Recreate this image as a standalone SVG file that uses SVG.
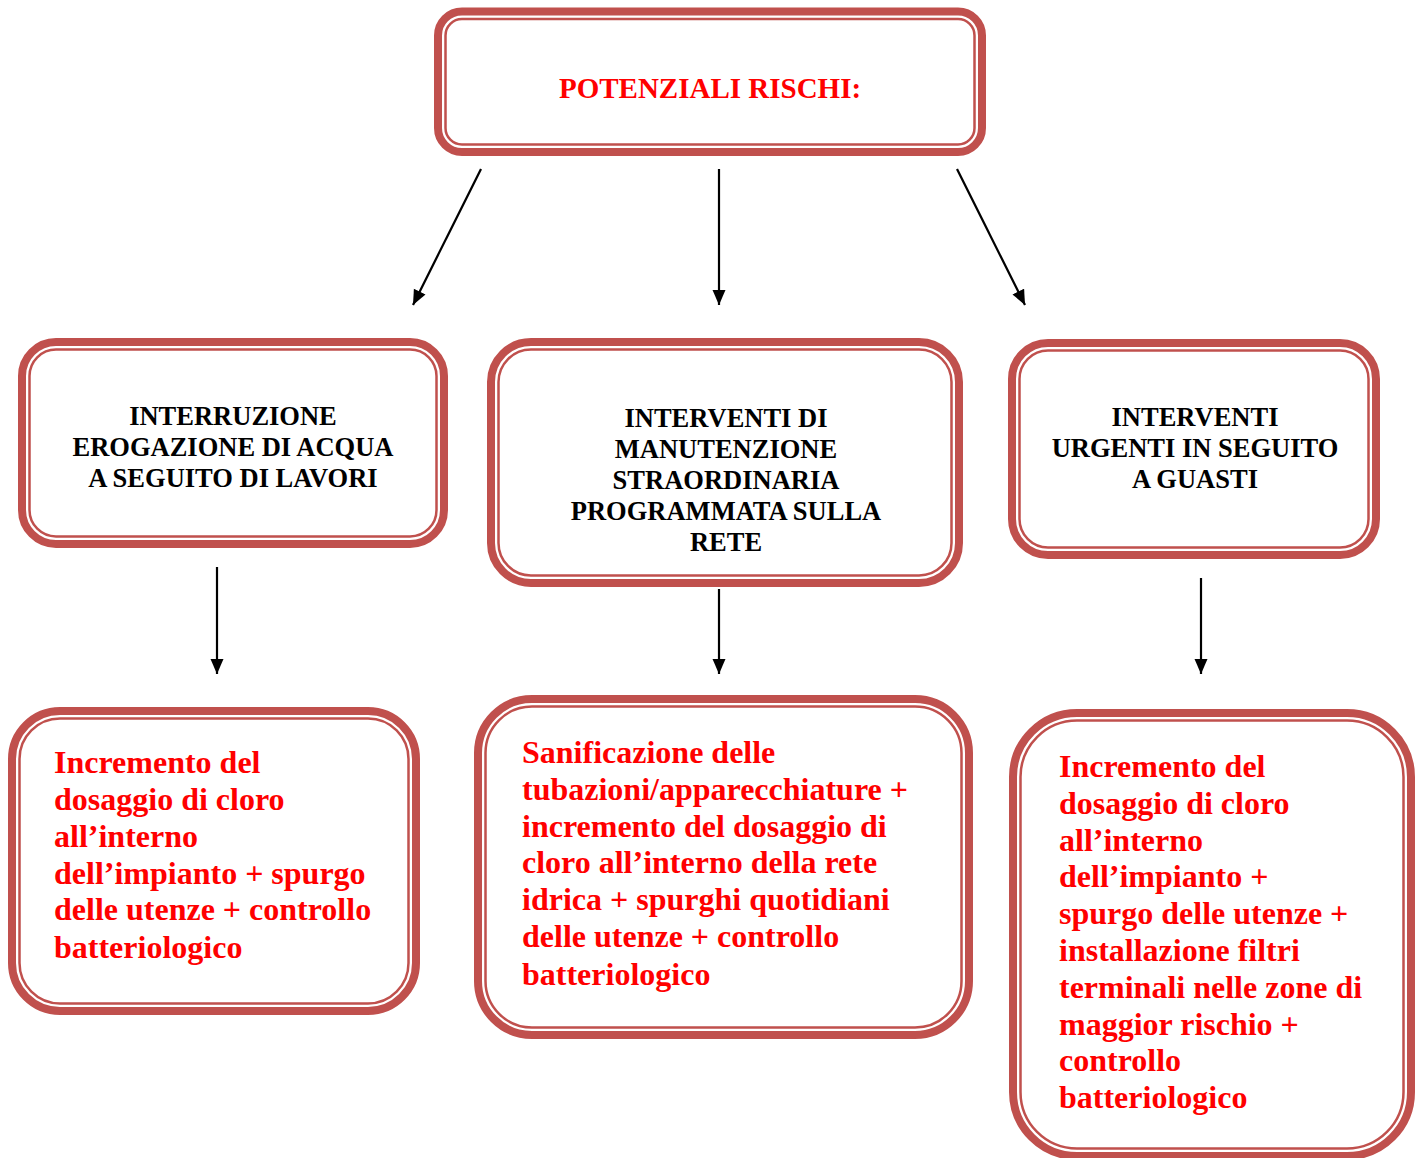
<svg xmlns="http://www.w3.org/2000/svg" width="1421" height="1158" viewBox="0 0 1421 1158">
<style>
.thick{fill:#fff;stroke:#C0504D;stroke-width:8}
.thin{fill:none;stroke:#C0504D;stroke-width:2.5}
.t{font-family:"Liberation Serif","Times New Roman",serif;font-weight:bold}
.title{font-size:29px;fill:#FF0000;text-anchor:middle}
.mid{font-size:26.5px;fill:#000;text-anchor:middle}
.low{font-size:32px;fill:#FF0000}
.conn{stroke:#000;stroke-width:2.2;fill:none;marker-end:url(#ah)}
</style>
<defs>
<marker id="ah" markerUnits="userSpaceOnUse" markerWidth="16" markerHeight="14" refX="15" refY="6.5" orient="auto">
<path d="M0,0 L15,6.5 L0,13 z" fill="#000"/>
</marker>
</defs>
<rect width="1421" height="1158" fill="#fff"/>
<g id="connectors">
<line class="conn" x1="481" y1="169" x2="413" y2="305"/>
<line class="conn" x1="719" y1="169" x2="719" y2="305"/>
<line class="conn" x1="957" y1="169" x2="1025" y2="305"/>
<line class="conn" x1="217" y1="567" x2="217" y2="674"/>
<line class="conn" x1="719" y1="589" x2="719" y2="674"/>
<line class="conn" x1="1201" y1="578" x2="1201" y2="674"/>
</g>
<g id="node-top">
<rect class="thick" x="438" y="11.5" width="544" height="140.5" rx="24"/>
<rect class="thin" x="445.5" y="19" width="529" height="125.5" rx="16.5"/>
<text class="t title" x="710" y="98">POTENZIALI RISCHI:</text>
</g>
<g id="node-interruzione">
<rect class="thick" x="22" y="342" width="422" height="202" rx="34"/>
<rect class="thin" x="29.5" y="349.5" width="407" height="187" rx="26.5"/>
<text class="t mid"><tspan x="233" y="425">INTERRUZIONE</tspan><tspan x="233" y="456">EROGAZIONE DI ACQUA</tspan><tspan x="233" y="487">A SEGUITO DI LAVORI</tspan></text>
</g>
<g id="node-manutenzione">
<rect class="thick" x="491" y="342" width="468" height="241" rx="40"/>
<rect class="thin" x="498.5" y="349.5" width="453" height="226" rx="32.5"/>
<text class="t mid"><tspan x="726" y="427">INTERVENTI DI</tspan><tspan x="726" y="458">MANUTENZIONE</tspan><tspan x="726" y="489">STRAORDINARIA</tspan><tspan x="726" y="520">PROGRAMMATA SULLA</tspan><tspan x="726" y="551">RETE</tspan></text>
</g>
<g id="node-urgenti">
<rect class="thick" x="1012" y="343" width="364" height="212" rx="36"/>
<rect class="thin" x="1019.5" y="350.5" width="349" height="197" rx="28.5"/>
<text class="t mid"><tspan x="1195" y="426">INTERVENTI</tspan><tspan x="1195" y="457">URGENTI IN SEGUITO</tspan><tspan x="1195" y="488">A GUASTI</tspan></text>
</g>
<g id="node-azione-1">
<rect class="thick" x="12" y="711" width="404" height="300" rx="48"/>
<rect class="thin" x="19.5" y="718.5" width="389" height="285" rx="40.5"/>
<text class="t low"><tspan x="54" y="773">Incremento del</tspan><tspan x="54" y="810">dosaggio di cloro</tspan><tspan x="54" y="847">all’interno</tspan><tspan x="54" y="884">dell’impianto + spurgo</tspan><tspan x="54" y="920">delle utenze + controllo</tspan><tspan x="54" y="958">batteriologico</tspan></text>
</g>
<g id="node-azione-2">
<rect class="thick" x="478" y="699" width="491" height="336" rx="54"/>
<rect class="thin" x="485.5" y="706.5" width="476" height="321" rx="46.5"/>
<text class="t low"><tspan x="522" y="763">Sanificazione delle</tspan><tspan x="522" y="800">tubazioni/apparecchiature +</tspan><tspan x="522" y="837">incremento del dosaggio di</tspan><tspan x="522" y="873">cloro all’interno della rete</tspan><tspan x="522" y="910">idrica + spurghi quotidiani</tspan><tspan x="522" y="947">delle utenze + controllo</tspan><tspan x="522" y="985">batteriologico</tspan></text>
</g>
<g id="node-azione-3">
<rect class="thick" x="1013" y="713" width="398" height="443" rx="64"/>
<rect class="thin" x="1020.5" y="720.5" width="383" height="428" rx="56.5"/>
<text class="t low"><tspan x="1059" y="777">Incremento del</tspan><tspan x="1059" y="814">dosaggio di cloro</tspan><tspan x="1059" y="851">all’interno</tspan><tspan x="1059" y="887">dell’impianto +</tspan><tspan x="1059" y="924">spurgo delle utenze +</tspan><tspan x="1059" y="961">installazione filtri</tspan><tspan x="1059" y="998">terminali nelle zone di</tspan><tspan x="1059" y="1035">maggior rischio +</tspan><tspan x="1059" y="1071">controllo</tspan><tspan x="1059" y="1108">batteriologico</tspan></text>
</g>
</svg>
